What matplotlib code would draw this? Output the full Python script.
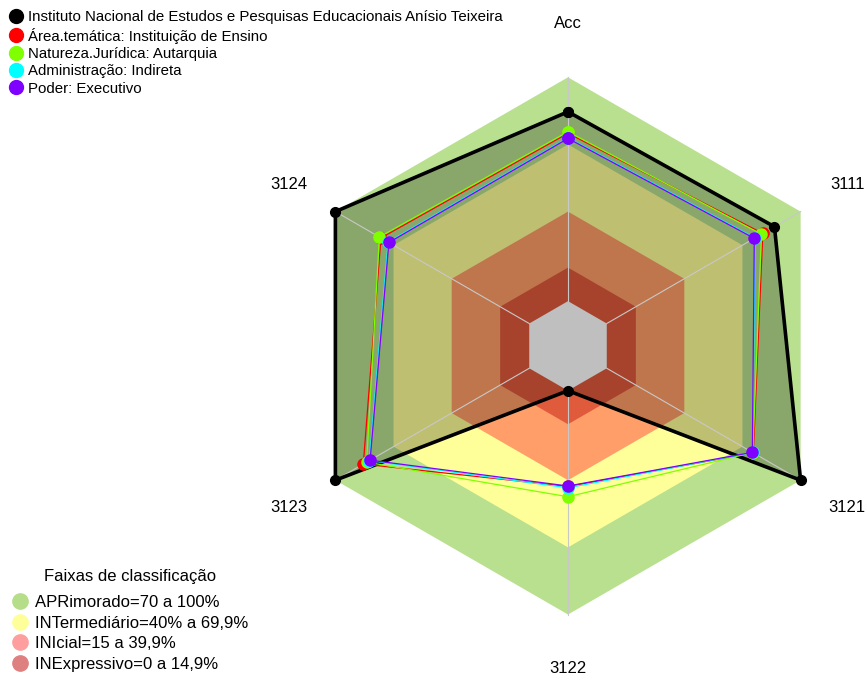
import numpy as np
import matplotlib
matplotlib.use("Agg")
import matplotlib.pyplot as plt
from matplotlib.lines import Line2D

plt.rcParams['font.family'] = ['Liberation Sans', 'DejaVu Sans']

# axes go counterclockwise from the top, like fmsb radarchart
categories = ["Acc", "3124", "3123", "3122", "3121", "3111"]

series_names = ["Instituto Nacional de Estudos e Pesquisas Educacionais Anísio Teixeira",
                "Área.temática: Instituição de Ensino",
                "Natureza.Jurídica: Autarquia",
                "Administração: Indireta",
                "Poder: Executivo"]
series_colors = ["black", "#ff0000", "#7fff00", "#00ffff", "#7f00ff"]

inst_vals = [84.6, 100, 100, 0, 100, 86.5]
area_vals = [75.0, 76.5, 85.6, 42.8, 75.6, 80.5]
natureza_vals = [75.7, 77.3, 83.9, 47.4, 75.3, 79.8]
admin_vals = [73.0, 72.8, 82.5, 43.4, 75.2, 76.5]
poder_vals = [72.7, 72.4, 82.1, 42.6, 75.1, 76.1]

band_title = "Faixas de classificação"
band_labels = ["APRimorado=70 a 100%", "INTermediário=40% a 69,9%",
               "INIcial=15 a 39,9%", "INExpressivo=0 a 14,9%"]
band_limits = [100, 70, 40, 15, 0]
band_fill = ["#b8e08e", "#ffff99", "#ff9e68", "#e05a3c", "white"]
band_legend_colors = ["#b5dd8a", "#ffff99", "#ff9e9e", "#de8080"]

n = len(categories)
theta = np.deg2rad(np.linspace(90, 450, n + 1))[:-1]


def to_xy(vals):
    # fmsb style: min value sits at 1/(seg+1) of the radius (seg = 5)
    r = 1 / 6 + (5 / 6) * np.asarray(vals, dtype=float) / 100
    x = r * np.cos(theta)
    y = r * np.sin(theta)
    return np.append(x, x[0]), np.append(y, y[0])


W, H = 867, 680
cx, cy, R = 568, 345.9, 268.6
fig = plt.figure(figsize=(W / 100, H / 100), dpi=100)
half = 1.3
ax = fig.add_axes([(cx - half * R) / W, (H - cy - half * R) / H, 2 * half * R / W, 2 * half * R / H])
ax.set_xlim(-half, half)
ax.set_ylim(-half, half)
ax.set_aspect('equal')
ax.axis('off')

# classification bands
for lim, col in zip(band_limits, band_fill):
    bx, by = to_xy([lim] * n)
    ax.fill(bx, by, color=col, lw=0, zorder=1)

# radial axis lines
x0, y0 = to_xy([0] * n)
x1, y1 = to_xy([100] * n)
for i in range(n):
    ax.plot([x0[i], x1[i]], [y0[i], y1[i]], color="#c8c8c8", lw=0.8, zorder=3)

all_vals = [inst_vals, area_vals, natureza_vals, admin_vals, poder_vals]

# institution polygon: translucent dark fill + thick line
px, py = to_xy(inst_vals)
ax.fill(px, py, color="black", alpha=0.25, lw=0, zorder=2)
ax.plot(px, py, color="black", lw=2.6, marker="o", ms=7, zorder=4)

for vals, col in zip(all_vals[1:], series_colors[1:]):
    px, py = to_xy(vals)
    ax.plot(px, py, color=col, lw=0.9, marker="o", ms=8, zorder=5)

# axis labels
for lab, t in zip(categories, theta):
    ax.text(1.2 * np.cos(t), 1.2 * np.sin(t), lab, ha="center", va="center", fontsize=12)

# series legend (top left)
handles = [Line2D([], [], ls="none", marker="o", ms=10, color=c) for c in series_colors]
fig.legend(handles, series_names, loc="upper left", bbox_to_anchor=(0.0, 0.9995),
           frameon=False, fontsize=10.8, handlelength=0.8, handletextpad=0.4,
           labelspacing=0.22, borderpad=0.37, borderaxespad=0.3)

# bands legend (bottom left)
bhandles = [Line2D([], [], ls="none", marker="o", ms=11, color=c) for c in band_legend_colors]
fig.legend(bhandles, band_labels, loc="lower left", bbox_to_anchor=(0.0, -0.0075),
           frameon=False, fontsize=12, handlelength=0.8, handletextpad=0.5,
           labelspacing=0.33, borderpad=0.4, borderaxespad=0.4)
fig.text(130 / W, 1 - 576 / H, band_title, ha="center", va="center", fontsize=12)

fig.savefig("out.png", dpi=100)
